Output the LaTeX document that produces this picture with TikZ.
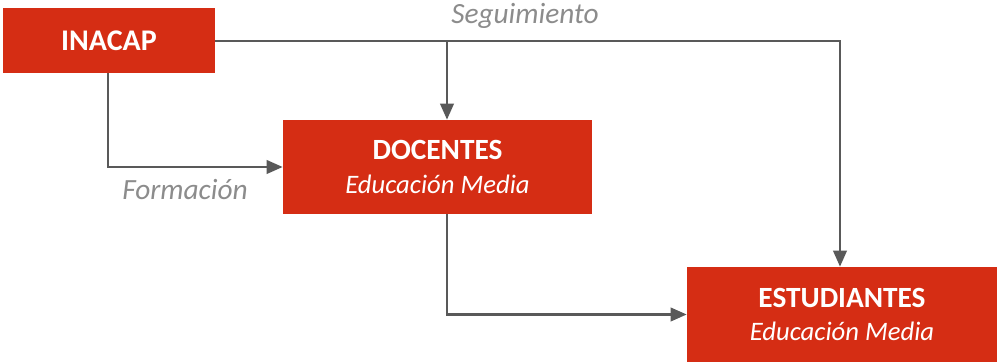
\documentclass[tikz,border=0pt]{standalone}
\usepackage{fontspec}
\setmainfont{Carlito}
\usetikzlibrary{arrows.meta,positioning}
\definecolor{boxRed}{HTML}{D52D14}
\definecolor{lineGray}{HTML}{595959}
\definecolor{textGray}{HTML}{8C8C8C}
\tikzset{>={Triangle[length=12pt,width=10pt]}}
\tikzset{redbox/.style={fill=boxRed, text=white, align=center, inner sep=0pt}}
\tikzset{link/.style={->, lineGray, line width=2pt}}
\tikzset{tag/.style={textGray, font=\fontsize{22}{26}\selectfont\itshape}}

\begin{document}
\begin{tikzpicture}[x=0.75pt, y=0.75pt]
				\useasboundingbox (0,0) rectangle (997,363);
				% cajas
				\node[redbox, minimum width=159pt, minimum height=48.75pt, font=\fontsize{22.5}{26}\selectfont\bfseries] (inacap) at (109,322.5) {INACAP};
				\node[redbox, minimum width=231.75pt, minimum height=70.5pt, font=\fontsize{20}{25}\selectfont] (docentes) at (437.5,196) {{\fontsize{22}{25}\selectfont\bfseries DOCENTES}\\\textit{Educación Media}};
				\node[redbox, minimum width=232.5pt, minimum height=71.25pt, font=\fontsize{20}{25}\selectfont] (estudiantes) at (842,48.5) {{\fontsize{22}{25}\selectfont\bfseries ESTUDIANTES}\\\textit{Educación Media}};
				% puntos de quiebre
				\coordinate (split) at (447,322);
				\coordinate (corner) at (840,322);
				% conectores
				\draw[link] (inacap.east |- split) -- (corner) -- (corner |- estudiantes.north);
				\draw[link] (split) -- (split |- docentes.north);
				\draw[link] (inacap.south -| 108,0) |- (docentes.west);
				\draw[link] (docentes.south -| split) |- (estudiantes.west);
				% etiquetas
				\node[tag] (seguimiento) at (525,347) {Seguimiento};
				\node[tag] (formacion) at (185,173) {Formación};
				\end{tikzpicture}
\end{document}
